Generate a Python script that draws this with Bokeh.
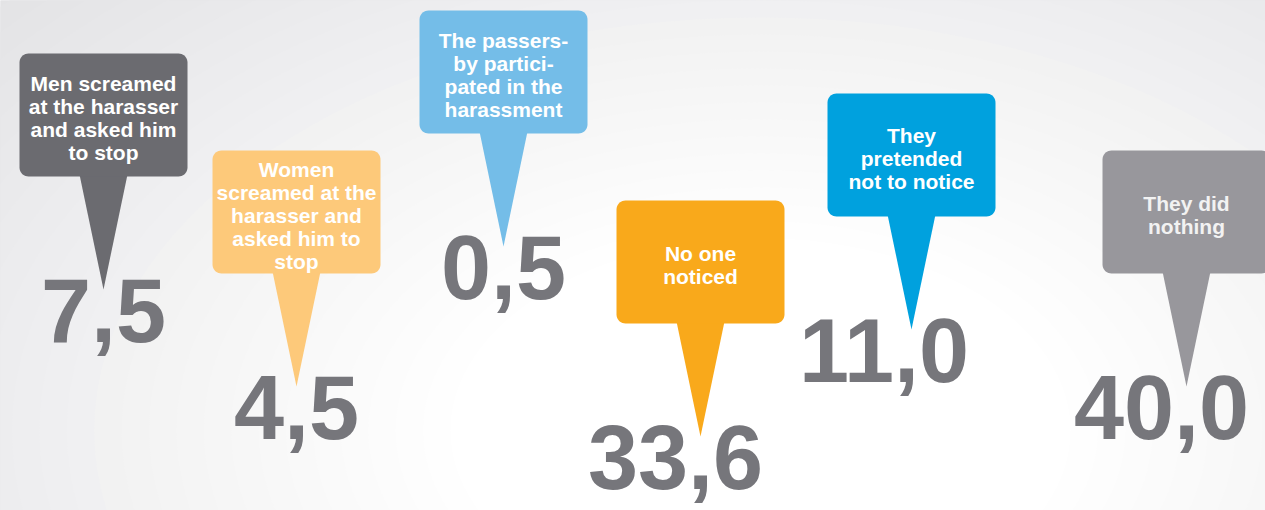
import numpy as np
from bokeh.plotting import figure
from bokeh.models import Range1d, ColumnDataSource
from bokeh.core.properties import value
from bokeh.embed import file_html
from bokeh.resources import INLINE

# ---- data ----
labels = [
    "Men screamed\nat the harasser\nand asked him\nto stop",
    "Women\nscreamed at the\nharasser and\nasked him to\nstop",
    "The passers-\nby partici-\npated in the\nharassment",
    "No one\nnoticed",
    "They\npretended\nnot to notice",
    "They did\nnothing",
]
values = [7.5, 4.5, 0.5, 33.6, 11.0, 40.0]
colors = ["#6b6b70", "#fdc97a", "#74bde8", "#f9a91b", "#00a1de", "#98979c"]
label_colors = ["#ffffff", "#ffffff", "#ffffff", "#ffffff", "#ffffff", "#f2f2f2"]

# ---- layout (pixel space of the page) ----
box_left = [19, 212, 419, 616, 827, 1102]
box_top = [53, 150, 10, 200, 93, 150]
BOX_W, BOX_H, RADIUS = 168, 123, 9
POINTER_HALF, POINTER_LEN = 24, 113
NUM_FS = 90
NUM_OFFSET = 21          # baseline of value below pointer tip
LABEL_FS = 21

W, H = 1265, 510
p = figure(width=W, height=H, output_backend="svg", toolbar_location=None,
           x_range=Range1d(0, W), y_range=Range1d(H, 0),
           min_border=0)
p.axis.visible = False
p.grid.visible = False
p.outline_line_color = None
p.background_fill_color = "#e3e3e5"
p.border_fill_color = "#ffffff"

# soft radial background (decoration)
n_rings = 28
g0 = np.array([0xe3, 0xe3, 0xe5]); g1 = np.array([0xff, 0xff, 0xff])
for i in range(n_rings):
    t = i / (n_rings - 1)
    c = g0 + (g1 - g0) * t
    w = 2100 * (1 - t) + 620 * t
    p.ellipse(x=[760], y=[430], width=[w], height=[w * 0.62],
              fill_color="#%02x%02x%02x" % tuple(int(round(v)) for v in c),
              line_color=None)

def rounded_rect(x0, y0, w, h, r, n=10):
    xs, ys = [], []
    corners = [(x0 + w - r, y0 + r, -90, 0), (x0 + w - r, y0 + h - r, 0, 90),
               (x0 + r, y0 + h - r, 90, 180), (x0 + r, y0 + r, 180, 270)]
    for cx, cy, a0, a1 in corners:
        for a in np.linspace(np.radians(a0), np.radians(a1), n):
            xs.append(cx + r * np.cos(a)); ys.append(cy + r * np.sin(a))
    return xs, ys

bx, by, tx, ty = [], [], [], []
for i in range(len(values)):
    xs, ys = rounded_rect(box_left[i], box_top[i], BOX_W, BOX_H, RADIUS)
    bx.append(xs); by.append(ys)
    cx = box_left[i] + BOX_W / 2
    yb = box_top[i] + BOX_H
    tx.append([cx - POINTER_HALF, cx + POINTER_HALF, cx])
    ty.append([yb - 2, yb - 2, yb + POINTER_LEN])

p.patches(xs=tx, ys=ty, fill_color=colors, line_color=None)
p.patches(xs=bx, ys=by, fill_color=colors, line_color=None)

# labels inside boxes
lab_src = ColumnDataSource(dict(
    x=[l + BOX_W / 2 for l in box_left],
    y=[t + BOX_H / 2 + 3 for t in box_top],
    text=labels, color=label_colors))
p.text(x="x", y="y", text="text", source=lab_src, text_color="color",
       text_align="center", text_baseline="middle",
       text_font=value("Liberation Sans"), text_font_style="bold",
       text_font_size=f"{LABEL_FS}px", text_line_height=1.0)

# value numbers: comma placed at pointer tip
num_text = [f"{v:.1f}".replace(".", ",") for v in values]
num_x, num_y = [], []
for i, v in enumerate(values):
    cx = box_left[i] + BOX_W / 2
    n_int = len(str(int(v)))
    num_x.append(cx - n_int * 0.556 * NUM_FS - 0.139 * NUM_FS)
    num_y.append(box_top[i] + BOX_H + POINTER_LEN + NUM_OFFSET)
num_src = ColumnDataSource(dict(x=num_x, y=num_y, text=num_text))
p.text(x="x", y="y", text="text", source=num_src, text_color="#76767b",
       text_align="left", text_baseline="alphabetic",
       text_font=value("Liberation Sans"), text_font_style="bold",
       text_font_size=f"{NUM_FS}px")

open("out.html", "w").write(file_html(p, INLINE))
